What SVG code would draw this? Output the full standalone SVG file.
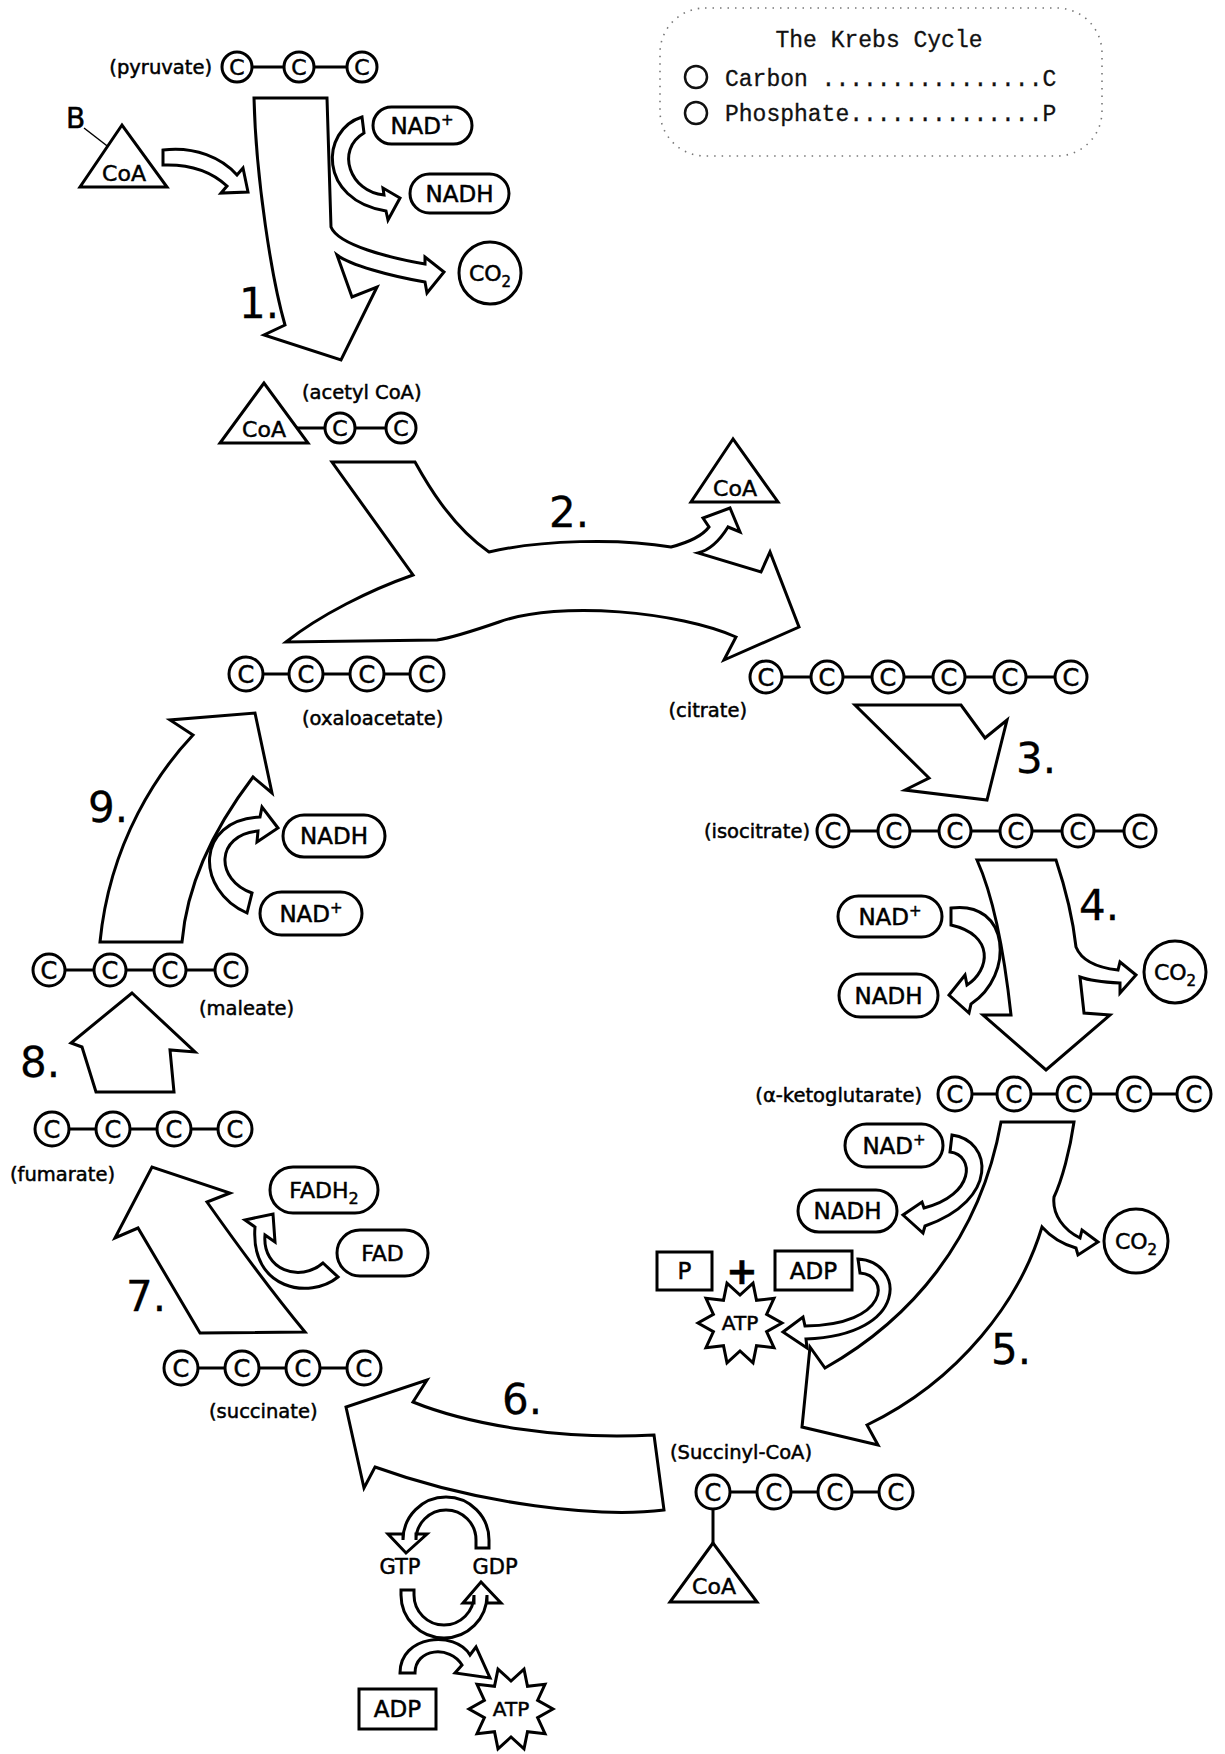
<svg xmlns="http://www.w3.org/2000/svg" width="1225" height="1754" viewBox="0 0 1225 1754">
<style>
.o{fill:#fff;stroke:#000;stroke-width:3;stroke-linejoin:miter}
.b{stroke:#000;stroke-width:3;fill:none}
.t{font-family:"DejaVu Sans","Liberation Sans",sans-serif;fill:#000;stroke:#000;stroke-width:0.5}
.lab{font-size:19.5px}
.cl{font-size:24px;text-anchor:middle}
.cs{font-size:22px;text-anchor:middle}
.pl{font-size:23px;text-anchor:middle}
.num{font-size:42px;stroke-width:0.3}
.mono{font-family:"Liberation Mono","DejaVu Sans Mono",monospace;font-size:23px;fill:#111;stroke:#111;stroke-width:0.3}
.leg{fill:none;stroke:#777;stroke-width:1.6;stroke-dasharray:1.5 6}
</style>
<defs>
<polygon id="star" class="o" points="42,0 26.6,8.7 34,24.7 16.5,22.7 13,39.9 0,28 -13,39.9 -16.5,22.7 -34,24.7 -26.6,8.7 -42,0 -26.6,-8.7 -34,-24.7 -16.5,-22.7 -13,-39.9 0,-28 13,-39.9 16.5,-22.7 34,-24.7 26.6,-8.7"/>
</defs>
<rect width="1225" height="1754" fill="#fff"/>

<!-- Legend -->
<g id="legend">
<rect class="leg" x="660" y="8" width="442" height="148" rx="45"/>
<text class="mono" x="879" y="47" text-anchor="middle">The Krebs Cycle</text>
<circle cx="696" cy="77" r="11" fill="none" stroke="#111" stroke-width="2.5"/>
<text class="mono" x="725" y="86">Carbon ................C</text>
<circle cx="696" cy="113" r="11" fill="none" stroke="#111" stroke-width="2.5"/>
<text class="mono" x="725" y="121">Phosphate..............P</text>
</g>

<!-- Connectors -->
<g id="connectors">
<path id="arrow1" class="o" d="M254,98 L327,98 L331,227 C338,245 390,258 425,264 L425,257 L444,272 L427,293 L425,282 C390,276 350,265 337,255 L352,297 L377,287 L341,360 L264,335 L285,325 C272,280 256,180 254,98 Z"/>
<path id="arrow-coa1" class="o" d="M163,150 C195,146 222,158 237,175 L243,168 L248,192 L221,193 L227,186 C212,172 190,164 163,165 Z"/>
<path id="arrow-nad1" class="o" d="M362,117 C320,130 318,200 386,211 L388,220 L400,198 L383,188 L384,195 C350,192 335,150 364,133 Z"/>
<path id="arrow2" class="o" d="M332,462 L415,462 C425,480 450,525 489,552 C540,540 620,538 671,547 C690,542 703,535 709,527 L703,518 L730,508 L740,532 L728,527 C720,540 710,550 698,553 L761,572 L770,552 L799,627 L724,660 L736,637 C680,612 560,600 499,622 C470,632 450,638 437,640 L286,642 C320,615 370,590 413,575 Z"/>
<path id="arrow3" class="o" d="M855,705 L961,705 L985,738 L1007,720 L987,800 L905,790 L929,778 Z"/>
<path id="arrow4" class="o" d="M977,860 L1056,860 C1066,890 1073,920 1076,947 C1082,962 1100,968 1118,970 L1120,962 L1136,975 L1120,993 L1120,983 C1100,982 1088,980 1080,977 L1084,1013 L1110,1015 L1046,1070 L983,1015 L1011,1015 C1005,960 995,900 977,860 Z"/>
<path id="arrow-nad4" class="o" d="M951,908 C1010,900 1015,975 971,1004 L969,1013 L949,995 L965,975 L967,985 C990,970 995,935 951,925 Z"/>
<path id="arrow5" class="o" d="M1001,1122 L1074,1122 C1070,1150 1062,1180 1054,1197 C1052,1215 1064,1230 1080,1238 L1082,1230 L1098,1242 L1078,1255 L1076,1248 C1062,1244 1050,1236 1042,1227 C1020,1300 960,1380 867,1425 L878,1445 L802,1427 L810,1347 L825,1368 C910,1320 980,1240 1001,1122 Z"/>
<path id="arrow-nad5" class="o" d="M952,1135 C992,1140 1000,1200 925,1226 L923,1233 L903,1215 L922,1202 L924,1208 C975,1195 975,1155 950,1152 Z"/>
<path id="arrow-atp5" class="o" d="M858,1259 C905,1262 910,1335 806,1339 L807,1348 L783,1332 L803,1317 L805,1326 C890,1325 890,1275 860,1273 Z"/>
<path id="arrow6" class="o" d="M654,1435 L664,1510 C600,1518 480,1505 375,1467 L364,1488 L346,1407 L427,1380 L413,1402 C470,1425 560,1440 654,1435 Z"/>
<path id="arrow-gdp-gtp" class="o" d="M476,1548 L489,1548 L489,1540 A43,43 0 0 0 403,1540 L403,1534 L388,1534 L406,1553 L427,1534 L416,1534 L416,1540 A30,30 0 0 1 476,1540 Z"/>
<path id="arrow-gtp-gdp" class="o" d="M401,1590 L414,1590 L414,1595 A30,30 0 0 0 474,1595 L474,1603 L463,1603 L481,1582 L501,1603 L487,1603 L487,1595 A43,43 0 0 1 401,1595 Z"/>
<path id="arrow-adp-atp" class="o" d="M400,1673 C400,1635 455,1630 470,1655 L476,1647 L490,1678 L455,1673 L462,1665 C450,1645 415,1648 415,1673 Z"/>
<path id="arrow7" class="o" d="M200,1333 L305,1332 Q262,1280 207,1202 L230,1193 L152,1167 L115,1238 L138,1228 Z"/>
<path id="arrow-fad" class="o" d="M323,1263 L338,1277 C310,1300 250,1290 255,1227 L245,1220 L273,1214 L275,1242 L265,1235 C262,1270 300,1283 323,1263 Z"/>
<path id="arrow8" class="o" d="M132,993 L195,1052 L170,1050 L174,1092 L96,1092 L82,1047 L71,1043 Z"/>
<path id="arrow9" class="o" d="M100,942 L182,942 C186,895 205,840 253,777 L272,793 L255,713 L170,720 L193,735 C160,770 110,840 100,942 Z"/>
<path id="arrow-nad9" class="o" d="M247,913 C195,890 195,820 260,817 L262,807 L278,828 L257,842 L258,831 C215,835 215,880 252,893 Z"/>
</g>

<!-- Step numbers -->
<g id="step-numbers" class="t num">
<text x="239" y="318">1.</text>
<text x="549" y="527">2.</text>
<text x="1016" y="773">3.</text>
<text x="1079" y="920">4.</text>
<text x="991" y="1364">5.</text>
<text x="502" y="1414">6.</text>
<text x="126" y="1311">7.</text>
<text x="20" y="1077">8.</text>
<text x="88" y="822">9.</text>
</g>

<!-- Pyruvate -->
<g id="pyruvate">
<text class="t lab" x="212" y="74" text-anchor="end">(pyruvate)</text>
<line class="b" x1="237" y1="67" x2="362" y2="67"/>
<circle class="o" cx="237" cy="67" r="15"/><text class="t cs" x="237" y="75">C</text>
<circle class="o" cx="299" cy="67" r="15"/><text class="t cs" x="299" y="75">C</text>
<circle class="o" cx="362" cy="67" r="15"/><text class="t cs" x="362" y="75">C</text>
</g>

<!-- CoA B -->
<g id="coa-b">
<text class="t" x="66" y="128" font-size="28">B</text>
<line x1="84" y1="128" x2="115" y2="152" stroke="#000" stroke-width="1.5"/>
<polygon class="o" points="122,125 80,187 167,187"/>
<text class="t cs" x="124" y="181">CoA</text>
</g>

<!-- step 1 products -->
<g id="nad-1"><rect class="o" x="373" y="107" width="99" height="37" rx="18.5"/><text class="t pl" x="422" y="134">NAD<tspan font-size="15" dy="-9">+</tspan></text></g>
<g id="nadh-1"><rect class="o" x="410" y="174" width="99" height="39" rx="19.5"/><text class="t pl" x="459.5" y="202">NADH</text></g>
<g id="co2-1"><circle class="o" cx="490" cy="273" r="31"/><text class="t" x="490" y="281" font-size="22" text-anchor="middle">CO<tspan font-size="15" dy="6">2</tspan></text></g>

<!-- Acetyl CoA -->
<g id="acetyl-coa">
<text class="t lab" x="302" y="399">(acetyl CoA)</text>
<line class="b" x1="292" y1="428" x2="401" y2="428"/>
<polygon class="o" points="264,383 220,443 308,443"/>
<text class="t cs" x="264" y="437">CoA</text>
<circle class="o" cx="340" cy="428" r="15"/><text class="t cs" x="340" y="436">C</text>
<circle class="o" cx="401" cy="428" r="15"/><text class="t cs" x="401" y="436">C</text>
</g>

<!-- released CoA -->
<g id="coa-2">
<polygon class="o" points="733,439 691,502 778,502"/>
<text class="t cs" x="735" y="496">CoA</text>
</g>

<!-- Oxaloacetate -->
<g id="oxaloacetate">
<line class="b" x1="246" y1="674" x2="427" y2="674"/>
<circle class="o" cx="246" cy="674" r="17"/><text class="t cl" x="246" y="683">C</text>
<circle class="o" cx="306" cy="674" r="17"/><text class="t cl" x="306" y="683">C</text>
<circle class="o" cx="367" cy="674" r="17"/><text class="t cl" x="367" y="683">C</text>
<circle class="o" cx="427" cy="674" r="17"/><text class="t cl" x="427" y="683">C</text>
<text class="t lab" x="302" y="725">(oxaloacetate)</text>
</g>

<!-- Citrate -->
<g id="citrate">
<text class="t lab" x="747" y="717" text-anchor="end">(citrate)</text>
<line class="b" x1="766" y1="677" x2="1071" y2="677"/>
<circle class="o" cx="766" cy="677" r="16"/><text class="t cl" x="766" y="686">C</text>
<circle class="o" cx="827" cy="677" r="16"/><text class="t cl" x="827" y="686">C</text>
<circle class="o" cx="888" cy="677" r="16"/><text class="t cl" x="888" y="686">C</text>
<circle class="o" cx="949" cy="677" r="16"/><text class="t cl" x="949" y="686">C</text>
<circle class="o" cx="1010" cy="677" r="16"/><text class="t cl" x="1010" y="686">C</text>
<circle class="o" cx="1071" cy="677" r="16"/><text class="t cl" x="1071" y="686">C</text>
</g>

<!-- Isocitrate -->
<g id="isocitrate">
<text class="t lab" x="810" y="838" text-anchor="end">(isocitrate)</text>
<line class="b" x1="833" y1="831" x2="1140" y2="831"/>
<circle class="o" cx="833" cy="831" r="16"/><text class="t cl" x="833" y="840">C</text>
<circle class="o" cx="894" cy="831" r="16"/><text class="t cl" x="894" y="840">C</text>
<circle class="o" cx="955" cy="831" r="16"/><text class="t cl" x="955" y="840">C</text>
<circle class="o" cx="1016" cy="831" r="16"/><text class="t cl" x="1016" y="840">C</text>
<circle class="o" cx="1078" cy="831" r="16"/><text class="t cl" x="1078" y="840">C</text>
<circle class="o" cx="1140" cy="831" r="16"/><text class="t cl" x="1140" y="840">C</text>
</g>

<!-- step 4 -->
<g id="nad-4"><rect class="o" x="838" y="896" width="104" height="41" rx="20.5"/><text class="t pl" x="890" y="925">NAD<tspan font-size="15" dy="-9">+</tspan></text></g>
<g id="nadh-4"><rect class="o" x="839" y="974" width="99" height="43" rx="21.5"/><text class="t pl" x="888.5" y="1004">NADH</text></g>
<g id="co2-4"><circle class="o" cx="1175" cy="972" r="31"/><text class="t" x="1175" y="980" font-size="22" text-anchor="middle">CO<tspan font-size="15" dy="6">2</tspan></text></g>

<!-- alpha-ketoglutarate -->
<g id="a-ketoglutarate">
<text class="t lab" x="922" y="1102" text-anchor="end">(α-ketoglutarate)</text>
<line class="b" x1="955" y1="1094" x2="1194" y2="1094"/>
<circle class="o" cx="955" cy="1094" r="17"/><text class="t cl" x="955" y="1103">C</text>
<circle class="o" cx="1014" cy="1094" r="17"/><text class="t cl" x="1014" y="1103">C</text>
<circle class="o" cx="1074" cy="1094" r="17"/><text class="t cl" x="1074" y="1103">C</text>
<circle class="o" cx="1134" cy="1094" r="17"/><text class="t cl" x="1134" y="1103">C</text>
<circle class="o" cx="1194" cy="1094" r="17"/><text class="t cl" x="1194" y="1103">C</text>
</g>

<!-- step 5 -->
<g id="nad-5"><rect class="o" x="845" y="1124" width="98" height="43" rx="21.5"/><text class="t pl" x="894" y="1154">NAD<tspan font-size="15" dy="-9">+</tspan></text></g>
<g id="nadh-5"><rect class="o" x="798" y="1190" width="99" height="42" rx="21"/><text class="t pl" x="847.5" y="1219">NADH</text></g>
<g id="co2-5"><circle class="o" cx="1136" cy="1241" r="32"/><text class="t" x="1136" y="1249" font-size="22" text-anchor="middle">CO<tspan font-size="15" dy="6">2</tspan></text></g>
<g id="p-5"><rect class="o" x="657" y="1252" width="55" height="38"/><text class="t pl" x="684.5" y="1279">P</text></g>
<g id="plus-5"><text class="t" x="742" y="1284" font-size="38" font-weight="bold" text-anchor="middle">+</text></g>
<g id="adp-5"><rect class="o" x="775" y="1251" width="77" height="39"/><text class="t pl" x="813.5" y="1279">ADP</text></g>
<g id="atp-5"><use href="#star" x="740" y="1323"/><text class="t" x="740" y="1330" font-size="20" text-anchor="middle">ATP</text></g>

<!-- Succinyl-CoA -->
<g id="succinyl-coa">
<text class="t lab" x="670" y="1459">(Succinyl-CoA)</text>
<line class="b" x1="713" y1="1492" x2="896" y2="1492"/>
<line class="b" x1="713" y1="1492" x2="713" y2="1543"/>
<circle class="o" cx="713" cy="1492" r="17"/><text class="t cl" x="713" y="1501">C</text>
<circle class="o" cx="774" cy="1492" r="17"/><text class="t cl" x="774" y="1501">C</text>
<circle class="o" cx="835" cy="1492" r="17"/><text class="t cl" x="835" y="1501">C</text>
<circle class="o" cx="896" cy="1492" r="17"/><text class="t cl" x="896" y="1501">C</text>
<polygon class="o" points="713,1543 670,1602 757,1602"/>
<text class="t cs" x="714" y="1594">CoA</text>
</g>

<!-- GTP / GDP -->
<g id="gtp"><text class="t" x="400" y="1574" font-size="21" text-anchor="middle">GTP</text></g>
<g id="gdp"><text class="t" x="495" y="1574" font-size="21" text-anchor="middle">GDP</text></g>
<g id="adp-6"><rect class="o" x="359" y="1689" width="77" height="40"/><text class="t pl" x="397.5" y="1717">ADP</text></g>
<g id="atp-6"><use href="#star" x="511" y="1709"/><text class="t" x="511" y="1716" font-size="20" text-anchor="middle">ATP</text></g>

<!-- Succinate -->
<g id="succinate">
<line class="b" x1="181" y1="1368" x2="364" y2="1368"/>
<circle class="o" cx="181" cy="1368" r="17"/><text class="t cl" x="181" y="1377">C</text>
<circle class="o" cx="242" cy="1368" r="17"/><text class="t cl" x="242" y="1377">C</text>
<circle class="o" cx="303" cy="1368" r="17"/><text class="t cl" x="303" y="1377">C</text>
<circle class="o" cx="364" cy="1368" r="17"/><text class="t cl" x="364" y="1377">C</text>
<text class="t lab" x="209" y="1418">(succinate)</text>
</g>

<!-- step 7 -->
<g id="fadh2"><rect class="o" x="270" y="1167" width="108" height="46" rx="23"/><text class="t" x="324" y="1198" font-size="22" text-anchor="middle">FADH<tspan font-size="16" dy="6">2</tspan></text></g>
<g id="fad"><rect class="o" x="337" y="1230" width="91" height="46" rx="23"/><text class="t" x="382.5" y="1261" font-size="22" text-anchor="middle">FAD</text></g>

<!-- Fumarate -->
<g id="fumarate">
<line class="b" x1="52" y1="1129" x2="235" y2="1129"/>
<circle class="o" cx="52" cy="1129" r="17"/><text class="t cl" x="52" y="1138">C</text>
<circle class="o" cx="113" cy="1129" r="17"/><text class="t cl" x="113" y="1138">C</text>
<circle class="o" cx="174" cy="1129" r="17"/><text class="t cl" x="174" y="1138">C</text>
<circle class="o" cx="235" cy="1129" r="17"/><text class="t cl" x="235" y="1138">C</text>
<text class="t lab" x="10" y="1181">(fumarate)</text>
</g>

<!-- Maleate -->
<g id="maleate">
<line class="b" x1="49" y1="970" x2="231" y2="970"/>
<circle class="o" cx="49" cy="970" r="16"/><text class="t cl" x="49" y="979">C</text>
<circle class="o" cx="110" cy="970" r="16"/><text class="t cl" x="110" y="979">C</text>
<circle class="o" cx="170" cy="970" r="16"/><text class="t cl" x="170" y="979">C</text>
<circle class="o" cx="231" cy="970" r="16"/><text class="t cl" x="231" y="979">C</text>
<text class="t lab" x="199" y="1015">(maleate)</text>
</g>

<!-- step 9 -->
<g id="nadh-9"><rect class="o" x="283" y="815" width="102" height="42" rx="21"/><text class="t pl" x="334" y="844">NADH</text></g>
<g id="nad-9"><rect class="o" x="260" y="892" width="102" height="43" rx="21.5"/><text class="t pl" x="311" y="922">NAD<tspan font-size="15" dy="-9">+</tspan></text></g>
</svg>
